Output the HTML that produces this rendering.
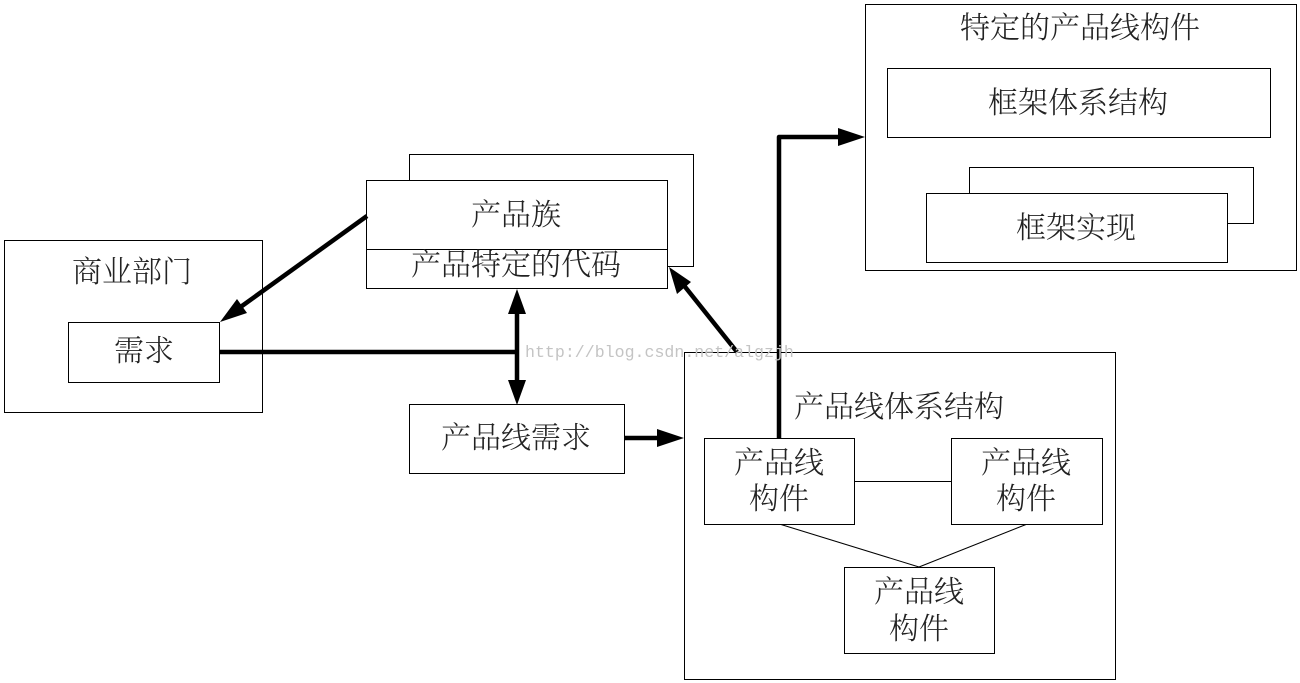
<!DOCTYPE html>
<html><head><meta charset="utf-8"><style>
html,body{margin:0;padding:0;background:#fff}
svg{display:block}
text{font-family:"Liberation Serif","Noto Serif CJK SC",serif;font-size:30px;font-weight:300;fill:#222;text-anchor:middle}
rect{fill:#fff;stroke:#000;stroke-width:1}
.t{stroke:#000;stroke-width:4.5;fill:none;stroke-linejoin:round}
.n{stroke:#000;stroke-width:1;fill:none}
.h{fill:#000;stroke:none}
</style></head><body>
<svg width="1300" height="683" viewBox="0 0 1300 683" xmlns="http://www.w3.org/2000/svg">
<rect x="4.5" y="240.5" width="258" height="172"/>
<rect x="68.5" y="322.5" width="151" height="60"/>
<text x="132" y="282">商业部门</text>
<text x="144" y="361">需求</text>

<rect x="409.5" y="154.5" width="284" height="112"/>
<rect x="366.5" y="180.5" width="301" height="108"/>
<path class="n" d="M366 249.5H667"/>
<text x="516" y="225">产品族</text>
<text x="516" y="275">产品特定的代码</text>

<rect x="409.5" y="404.5" width="215" height="69"/>
<text x="516" y="448">产品线需求</text>

<rect x="684.5" y="352.5" width="431" height="327"/>
<text x="899" y="417">产品线体系结构</text>
<rect x="704.5" y="438.5" width="150" height="86"/>
<rect x="951.5" y="438.5" width="151" height="86"/>
<rect x="844.5" y="567.5" width="150" height="86"/>
<text x="779" y="473">产品线</text><text x="779" y="509">构件</text>
<text x="1026" y="473">产品线</text><text x="1026" y="509">构件</text>
<text x="919" y="602">产品线</text><text x="919" y="639">构件</text>
<path class="n" d="M855 481.5H951M781 524.5L919 567M1026 524.5L919 567"/>

<rect x="865.5" y="4.5" width="431" height="266"/>
<text x="1080" y="38">特定的产品线构件</text>
<rect x="887.5" y="68.5" width="383" height="69"/>
<text x="1078" y="113">框架体系结构</text>
<rect x="969.5" y="167.5" width="284" height="56"/>
<rect x="926.5" y="193.5" width="301" height="69"/>
<text x="1076" y="238">框架实现</text>

<path class="t" d="M367 216L235 311"/>
<polygon class="h" points="220,322 237,299 247,313"/>
<path class="t" d="M219 352H516"/>
<path class="t" d="M517 305V390"/>
<polygon class="h" points="517,289 508,314 526,314"/>
<polygon class="h" points="517,405 508,380 526,380"/>
<path class="t" d="M624 438H662"/>
<polygon class="h" points="684,438 657,429 657,447"/>
<path class="t" d="M737 352L682 283"/>
<polygon class="h" points="669,267 691,282 677,294"/>
<path class="t" d="M779 438V137H842"/>
<polygon class="h" points="865,137 838,128 838,146"/>

<text x="525" y="357" style="font-family:'Liberation Mono',monospace;font-size:16.6px;fill:#c4c4c4;text-anchor:start;font-weight:400">http://blog.csdn.net/algzjh</text>
</svg>
</body></html>
